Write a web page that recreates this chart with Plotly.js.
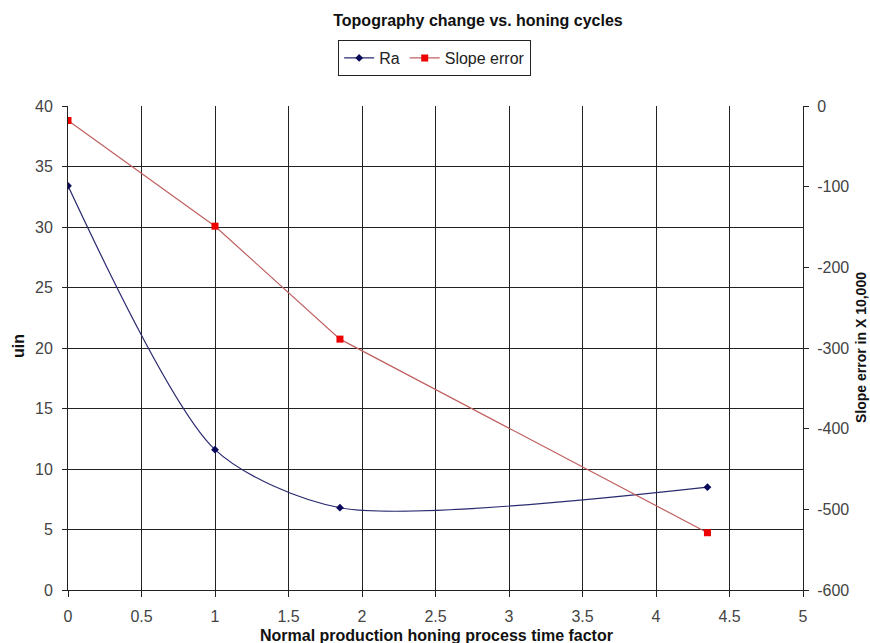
<!DOCTYPE html>
<html><head><meta charset="utf-8">
<script src="https://cdn.plot.ly/plotly-3.0.1.min.js"></script>
<style>html,body{margin:0;padding:0;background:#fff}#c{width:870px;height:643px}</style>
</head><body><div id="c"></div>
<script>
const timeFactor = [0, 1, 1.85, 4.35];
const raValues = [33.4, 11.6, 6.8, 8.5];
const slopeErrorValues = [-18, -149, -289, -529];
const xTicks = [0, 0.5, 1, 1.5, 2, 2.5, 3, 3.5, 4, 4.5, 5];
const leftTicks = [0, 5, 10, 15, 20, 25, 30, 35, 40];
const rightTicks = [-600, -500, -400, -300, -200, -100, 0];

const fontFam = 'Liberation Sans, Arial, sans-serif';
const PT = 106, PB = 590, PL = 68, PR = 803;
const PH = PB - PT, PW = PR - PL;
const traces = [
  {x: timeFactor, y: raValues, name: 'Ra', type: 'scatter', mode: 'lines+markers',
   line: {color: '#2a2a70', width: 1.2, shape: 'spline', smoothing: 0.75},
   marker: {symbol: 'diamond', size: 6, color: '#0a0a5a'}, yaxis: 'y'},
  {x: timeFactor, y: slopeErrorValues, name: 'Slope error', type: 'scatter', mode: 'lines+markers',
   line: {color: '#c06060', width: 1.2},
   marker: {symbol: 'square', size: 7, color: '#ee0000'}, yaxis: 'y2'}
];
const layout = {
  width: 870, height: 643,
  margin: {l: PL, r: 870 - PR, t: PT, b: 643 - PB},
  paper_bgcolor: '#fff', plot_bgcolor: '#fff',
  font: {family: fontFam, size: 16, color: '#333'},
  title: {text: '<b>Topography change vs. honing cycles</b>', x: 478/870, xanchor: 'center', y: 1 - 20/643, yanchor: 'middle',
          font: {family: fontFam, size: 16, color: '#111'}},
  showlegend: true,
  legend: {orientation: 'h', x: 434/870, xanchor: 'center', xref: 'paper', y: 1 + (PT - 58)/PH, yanchor: 'middle',
           bordercolor: '#222', borderwidth: 1, bgcolor: '#fff', font: {family: fontFam, size: 16, color: '#222'}},
  xaxis: {range: [0, 5], tickvals: xTicks, ticktext: xTicks.map(String), showgrid: true, gridcolor: '#222', gridwidth: 1,
          zeroline: false, showline: true, linecolor: '#222', ticks: 'outside', ticklen: 6, tickcolor: '#222',
          ticklabelstandoff: 6, tickfont: {size: 16, color: '#444'}},
  yaxis: {range: [0, 40], tickvals: leftTicks, showgrid: true, gridcolor: '#222', gridwidth: 1, zeroline: false,
          showline: true, linecolor: '#222', ticks: 'outside', ticklen: 5, tickcolor: '#222',
          ticklabelstandoff: 6, tickfont: {size: 16, color: '#444'}},
  yaxis2: {range: [-600, 0], tickvals: rightTicks, ticktext: rightTicks.map(String), overlaying: 'y', side: 'right',
           showgrid: false, zeroline: false,
           showline: true, linecolor: '#222', ticks: 'outside', ticklen: 5, tickcolor: '#222',
           ticklabelstandoff: 5, tickfont: {size: 16, color: '#444'}},
  annotations: [
    {text: '<b>Normal production honing process time factor</b>', xref: 'paper', yref: 'paper',
     x: (436 - PL)/PW, y: -(635 - PB)/PH, xanchor: 'center', yanchor: 'middle', showarrow: false,
     font: {family: fontFam, size: 16, color: '#111'}},
    {text: '<b>uin</b>', xref: 'paper', yref: 'paper', textangle: -90,
     x: (18 - PL)/PW, y: (PB - 346)/PH, xanchor: 'center', yanchor: 'middle', showarrow: false,
     font: {family: fontFam, size: 16, color: '#111'}},
    {text: '<b>Slope error in X 10,000</b>', xref: 'paper', yref: 'paper', textangle: -90,
     x: (861 - PL)/PW, y: (PB - 347)/PH, xanchor: 'center', yanchor: 'middle', showarrow: false,
     font: {family: fontFam, size: 14, color: '#111'}}
  ]
};
Plotly.newPlot('c', traces, layout, {displayModeBar: false, staticPlot: true});
</script></body></html>
